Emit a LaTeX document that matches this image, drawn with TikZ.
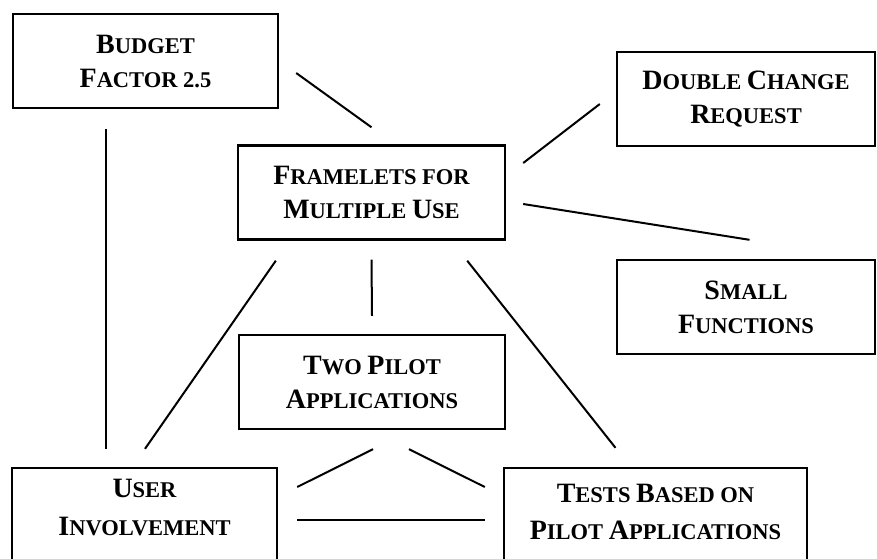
\documentclass[tikz,border=0pt]{standalone}
\usepackage{fontspec}
\setmainfont{Liberation Serif}
\usetikzlibrary{calc}

\newcommand{\Ini}[1]{{\fontsize{28}{34}\selectfont #1}}

\begin{document}
\begin{tikzpicture}[x=1pt, y=-1pt,
  box/.style={draw, line width=2.4pt, minimum height=94pt, align=center,
    font=\bfseries\fontsize{22.5}{34}\selectfont},
  lowbox/.style={box, text depth=16pt},
  link/.style={line width=2pt}]
\path[use as bounding box, clip] (0,0) rectangle (877,558);

\node[box, minimum width=265pt] (budget) at (145.5,61) {\Ini{B}UDGET\\\Ini{F}ACTOR 2.5};
\node[box, minimum width=258pt] (double) at (746,99) {\Ini{D}OUBLE \Ini{C}HANGE\\\Ini{R}EQUEST};
\node[box, minimum width=267pt] (framelets) at (371.5,192.5) {\Ini{F}RAMELETS FOR\\\Ini{M}ULTIPLE \Ini{U}SE};
\node[box, minimum width=258pt] (small) at (746,307) {\Ini{S}MALL\\\Ini{F}UNCTIONS};
\node[box, minimum width=266pt] (twopilot) at (372,382) {\Ini{T}WO \Ini{P}ILOT\\\Ini{A}PPLICATIONS};
\node[lowbox, minimum width=265pt] (user) at (144.5,515) {\Ini{U}SER\\[4pt]\Ini{I}NVOLVEMENT};
\node[lowbox, minimum width=303pt, text depth=6pt] (tests) at (655.5,515) {\Ini{T}ESTS \Ini{B}ASED ON\\[3pt]\Ini{P}ILOT \Ini{A}PPLICATIONS};

% connections, kept clear of the boxes
\draw[link] ($(budget.east)+(17,12)$) -- ($(framelets.north)+(0,-17)$);
\draw[link] ($(budget.south)+(-39.5,20)$) -- ($(user.north)+(-38.5,-18)$);
\draw[link] ($(framelets.east)+(17,-29.5)$) -- ($(double.west)+(-16,5)$);
\draw[link] ($(framelets.east)+(17,11.5)$) -- ($(small.north)+(3.5,-19)$);
\draw[link] ($(framelets.south west)+(39,20)$) -- ($(user.north)+(0.5,-18)$);
\draw[link] ($(framelets.south)+(0,19)$) -- ($(twopilot.north)+(0,-18)$);
\draw[link] ($(framelets.south east)+(-39,20)$) -- ($(tests.north)+(-40,-19)$);
\draw[link] ($(twopilot.south)+(1,19)$) -- ($(user.east)+(19,-28)$);
\draw[link] ($(twopilot.south)+(37,19)$) -- ($(tests.west)+(-18,-28)$);
\draw[link] ($(user.east)+(19,5)$) -- ($(tests.west)+(-18,5)$);
\end{tikzpicture}
\end{document}
